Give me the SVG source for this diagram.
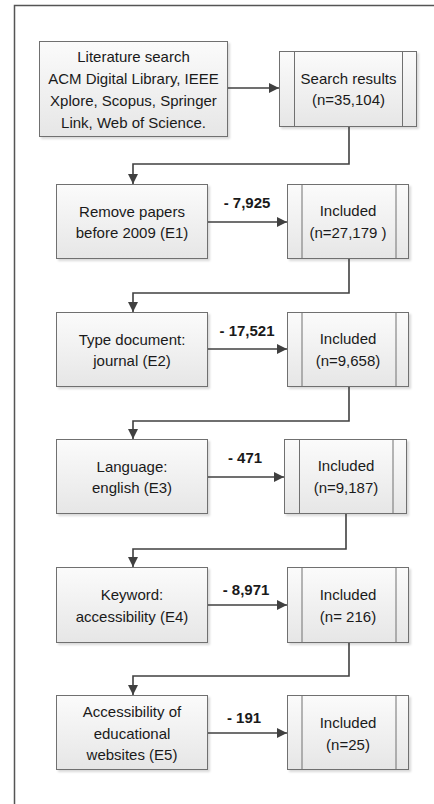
<svg xmlns="http://www.w3.org/2000/svg" width="434" height="804" viewBox="0 0 434 804">
<defs>
<linearGradient id="g" x1="0" y1="0" x2="0" y2="1">
<stop offset="0" stop-color="#fbfbfb"/>
<stop offset="1" stop-color="#e6e6e6"/>
</linearGradient>
<marker id="ah" viewBox="0 0 10 10" refX="10" refY="5" markerWidth="10" markerHeight="10" markerUnits="userSpaceOnUse" orient="auto">
<path d="M0,0 L10,5 L0,10 z" fill="#404040"/>
</marker>
<filter id="sh" x="-10%" y="-10%" width="130%" height="130%">
<feDropShadow dx="2" dy="2" stdDeviation="1" flood-color="#000" flood-opacity="0.15"/>
</filter>
</defs>
<style>
.box{fill:url(#g);stroke:#707070;stroke-width:1;filter:url(#sh)}
.in{stroke:#707070;stroke-width:1}
.t{font-family:"Liberation Sans",Arial,sans-serif;font-size:15px;fill:#1a1a1a;text-anchor:middle}
.b{font-family:"Liberation Sans",Arial,sans-serif;font-size:15px;font-weight:bold;fill:#1a1a1a;text-anchor:middle}
.c{fill:none;stroke:#404040;stroke-width:1.6}
</style>
<path d="M14.5,804 V5.5 H434" fill="none" stroke="#555" stroke-width="1.5"/>

<g id="n1">
<rect class="box" x="39.5" y="41.5" width="188" height="95"/>
<text class="t" x="133.5" y="62">Literature search</text>
<text class="t" x="133.5" y="84">ACM Digital Library, IEEE</text>
<text class="t" x="133.5" y="106">Xplore, Scopus, Springer</text>
<text class="t" x="133.5" y="128">Link, Web of Science.</text>
</g>
<g id="r0">
<rect class="box" x="279.5" y="51.5" width="137" height="75"/>
<line class="in" x1="294.5" y1="51.5" x2="294.5" y2="126.5"/>
<line class="in" x1="402.5" y1="51.5" x2="402.5" y2="126.5"/>
<text class="t" x="348.5" y="84">Search results</text>
<text class="t" x="348.5" y="105">(n=35,104)</text>
</g>

<g id="n2">
<rect class="box" x="56.5" y="184.5" width="151" height="74"/>
<text class="t" x="132" y="216.5">Remove papers</text>
<text class="t" x="132" y="238">before 2009 (E1)</text>
</g>
<g id="r1">
<rect class="box" x="287.5" y="184.5" width="121" height="74"/>
<line class="in" x1="302" y1="184.5" x2="302" y2="258.5"/>
<line class="in" x1="396" y1="184.5" x2="396" y2="258.5"/>
<text class="t" x="348" y="216">Included</text>
<text class="t" x="348" y="238">(n=27,179 )</text>
</g>

<g id="n3">
<rect class="box" x="56.5" y="312.5" width="151" height="74"/>
<text class="t" x="132" y="344.5">Type document:</text>
<text class="t" x="132" y="366">journal (E2)</text>
</g>
<g id="r2">
<rect class="box" x="287.5" y="312.5" width="121" height="74"/>
<line class="in" x1="302" y1="312.5" x2="302" y2="386.5"/>
<line class="in" x1="396" y1="312.5" x2="396" y2="386.5"/>
<text class="t" x="348" y="344">Included</text>
<text class="t" x="348" y="366">(n=9,658)</text>
</g>

<g id="n4">
<rect class="box" x="56.5" y="439.5" width="151" height="74"/>
<text class="t" x="132" y="471.5">Language:</text>
<text class="t" x="132" y="493">english (E3)</text>
</g>
<g id="r3">
<rect class="box" x="284.5" y="439.5" width="122" height="74"/>
<line class="in" x1="299.5" y1="439.5" x2="299.5" y2="513.5"/>
<line class="in" x1="393" y1="439.5" x2="393" y2="513.5"/>
<text class="t" x="346" y="471">Included</text>
<text class="t" x="346" y="493">(n=9,187)</text>
</g>

<g id="n5">
<rect class="box" x="56.5" y="567.5" width="151" height="75"/>
<text class="t" x="132" y="600">Keyword:</text>
<text class="t" x="132" y="621.5">accessibility (E4)</text>
</g>
<g id="r4">
<rect class="box" x="287.5" y="567.5" width="121" height="75"/>
<line class="in" x1="302" y1="567.5" x2="302" y2="642.5"/>
<line class="in" x1="396" y1="567.5" x2="396" y2="642.5"/>
<text class="t" x="348" y="599.5">Included</text>
<text class="t" x="348" y="621.5">(n= 216)</text>
</g>

<g id="n6">
<rect class="box" x="56.5" y="695.5" width="151" height="74"/>
<text class="t" x="132" y="717">Accessibility of</text>
<text class="t" x="132" y="738.5">educational</text>
<text class="t" x="132" y="760">websites (E5)</text>
</g>
<g id="r5">
<rect class="box" x="287.5" y="695.5" width="121" height="74"/>
<line class="in" x1="302" y1="695.5" x2="302" y2="769.5"/>
<line class="in" x1="396" y1="695.5" x2="396" y2="769.5"/>
<text class="t" x="348" y="727.5">Included</text>
<text class="t" x="348" y="749.5">(n=25)</text>
</g>

<g id="connectors">
<path class="c" d="M228,88 H279" marker-end="url(#ah)"/>
<path class="c" d="M349,127 V164 H133 V184" marker-end="url(#ah)"/>
<path class="c" d="M208,222 H287" marker-end="url(#ah)"/>
<path class="c" d="M349,259 V293 H133 V312" marker-end="url(#ah)"/>
<path class="c" d="M208,349 H287" marker-end="url(#ah)"/>
<path class="c" d="M349,387 V421 H133 V439" marker-end="url(#ah)"/>
<path class="c" d="M208,477 H284" marker-end="url(#ah)"/>
<path class="c" d="M346,514 V549 H133 V567" marker-end="url(#ah)"/>
<path class="c" d="M208,605 H287" marker-end="url(#ah)"/>
<path class="c" d="M349,643 V676 H133 V695" marker-end="url(#ah)"/>
<path class="c" d="M208,733 H287" marker-end="url(#ah)"/>
<text class="b" x="247" y="208">- 7,925</text>
<text class="b" x="247" y="335.5">- 17,521</text>
<text class="b" x="245" y="463">- 471</text>
<text class="b" x="246" y="595">- 8,971</text>
<text class="b" x="244" y="723">- 191</text>
</g>
</svg>
